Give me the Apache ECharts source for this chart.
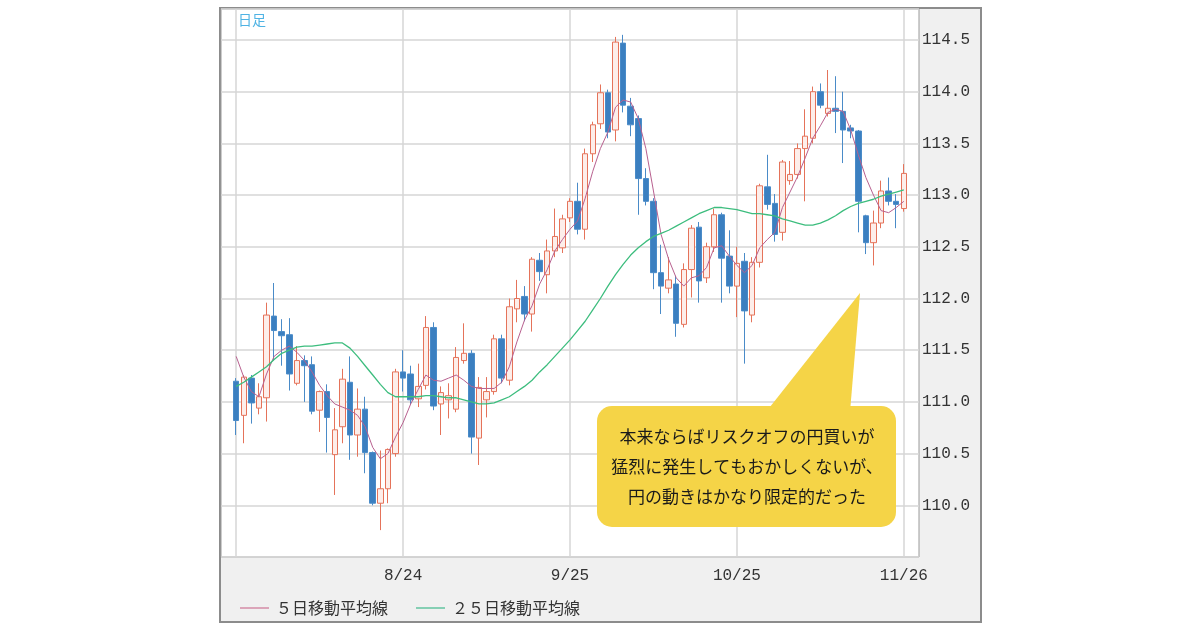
<!DOCTYPE html>
<html>
<head>
<meta charset="utf-8">
<script src="https://cdn.jsdelivr.net/npm/echarts@6/dist/echarts.min.js"></script>
<style>
html,body{margin:0;padding:0;background:#fff;}
#chart{width:1200px;height:630px;}
</style>
</head>
<body>
<div id="chart"></div>
<script>
// 取引日 (7/25 - 11/26)
var dates = ['7/25','7/26','7/27','7/30','7/31',
	'8/1','8/2','8/3','8/6','8/7','8/8','8/9','8/10','8/13','8/14','8/15','8/16','8/17','8/20','8/21','8/22','8/23','8/24','8/27','8/28','8/29','8/30','8/31',
	'9/3','9/4','9/5','9/6','9/7','9/10','9/11','9/12','9/13','9/14','9/17','9/18','9/19','9/20','9/21','9/24','9/25','9/26','9/27','9/28',
	'10/1','10/2','10/3','10/4','10/5','10/8','10/9','10/10','10/11','10/12','10/15','10/16','10/17','10/18','10/19','10/22','10/23','10/24','10/25','10/26','10/29','10/30','10/31',
	'11/1','11/2','11/5','11/6','11/7','11/8','11/9','11/12','11/13','11/14','11/15','11/16','11/19','11/20','11/21','11/22','11/23','11/26'];

var open = [111.20,110.87,111.23,110.94,111.04,111.83,111.68,111.65,111.18,111.40,
	111.36,110.92,111.10,110.49,110.76,111.19,110.68,110.93,110.51,110.02,
	110.16,110.50,111.29,111.27,111.03,111.16,111.72,110.98,111.02,110.93,
	111.40,111.47,110.65,111.02,111.10,111.61,111.21,111.90,112.02,111.85,
	112.37,112.23,112.46,112.49,112.78,112.94,112.67,113.40,113.69,113.99,
	113.63,114.47,113.86,113.74,113.16,112.94,112.25,112.10,112.14,111.75,
	112.28,112.69,112.20,112.50,112.81,112.41,112.12,112.36,111.84,112.35,
	113.08,112.92,112.64,113.14,113.20,113.45,113.55,114.00,113.79,113.84,
	113.81,113.65,113.62,112.80,112.54,112.73,113.04,112.94,112.87];
var close = [110.82,111.24,110.99,111.05,111.84,111.69,111.64,111.27,111.40,111.35,
	110.91,111.10,110.85,110.73,111.22,110.68,110.93,110.51,110.02,110.16,
	110.54,111.29,111.23,111.02,111.15,111.72,110.96,111.09,111.06,111.43,
	111.47,110.66,111.14,111.10,111.61,111.23,111.92,112.00,111.85,112.38,
	112.26,112.46,112.60,112.77,112.94,112.67,113.40,113.68,113.99,113.61,
	114.48,113.87,113.68,113.16,112.94,112.25,112.12,112.18,111.76,112.28,
	112.68,112.17,112.50,112.81,112.39,112.12,112.34,111.88,112.35,113.09,
	112.91,112.62,113.32,113.20,113.45,113.57,114.00,113.87,113.84,113.81,
	113.63,113.62,112.94,112.54,112.73,113.04,112.94,112.91,113.21];
var low = [110.68,110.60,110.79,110.88,110.81,111.40,111.35,111.11,111.16,111.00,
	110.88,110.71,110.51,110.10,110.60,110.44,110.47,110.31,110.00,109.76,
	110.02,110.47,111.10,110.98,110.95,111.12,110.92,110.68,110.84,110.90,
	111.37,110.50,110.39,110.85,111.07,111.18,111.16,111.77,111.78,111.68,
	112.17,112.05,112.40,112.44,112.74,112.62,112.57,113.32,113.64,113.55,
	113.52,113.80,113.57,112.81,112.90,112.09,111.85,112.05,111.63,111.72,
	112.01,111.96,112.15,112.45,111.96,112.05,111.82,111.37,111.77,112.30,
	112.86,112.55,112.56,113.10,113.16,112.94,113.50,113.84,113.76,113.60,
	113.31,113.55,112.64,112.43,112.32,112.68,112.90,112.68,112.84];
var high = [111.23,111.26,111.26,111.18,111.96,112.15,111.80,111.81,111.54,111.45,
	111.44,111.11,111.17,110.94,111.32,111.44,111.13,111.05,110.52,110.53,
	110.55,111.32,111.50,111.35,111.37,111.83,111.77,111.15,111.18,111.53,
	111.76,111.50,111.24,111.24,111.65,111.65,112.00,112.18,112.12,112.40,
	112.44,112.57,112.87,112.81,112.97,113.12,113.45,113.71,114.07,114.02,
	114.53,114.55,113.94,113.77,113.26,112.97,112.52,112.40,112.22,112.34,
	112.71,112.74,112.54,112.87,112.83,112.66,112.50,112.44,112.40,113.11,
	113.39,113.01,113.34,113.33,113.50,113.83,114.05,114.08,114.21,114.15,
	114.00,113.68,113.63,112.81,112.85,113.14,113.17,113.01,113.30];
// 移動平均線
var ma5 = [111.44,111.24,111.10,111.05,111.27,111.44,111.50,111.54,111.48,111.40,
	111.29,111.16,111.06,110.98,110.95,110.92,110.87,110.76,110.56,110.45,
	110.50,110.66,110.80,110.98,111.12,111.26,111.21,111.20,111.23,111.26,
	111.21,111.15,111.13,111.13,111.13,111.19,111.34,111.58,111.79,111.93,
	112.14,112.28,112.46,112.57,112.67,112.75,112.97,113.23,113.45,113.61,
	113.85,113.92,113.90,113.74,113.45,113.04,112.62,112.38,112.20,112.12,
	112.20,112.22,112.30,112.49,112.51,112.41,112.32,112.25,112.32,112.49,
	112.57,112.64,112.88,113.03,113.18,113.36,113.55,113.67,113.80,113.83,
	113.81,113.63,113.39,113.17,113.00,112.85,112.83,112.88,112.94];
var ma25 = [111.15,111.19,111.24,111.29,111.34,111.41,111.47,111.50,111.53,111.54,
	111.54,111.55,111.56,111.57,111.57,111.52,111.44,111.35,111.26,111.17,
	111.09,111.05,111.05,111.05,111.05,111.06,111.06,111.05,111.04,111.04,
	111.02,111.00,110.98,110.98,110.99,111.02,111.05,111.10,111.15,111.21,
	111.29,111.36,111.44,111.52,111.60,111.69,111.78,111.89,112.00,112.12,
	112.23,112.33,112.42,112.49,112.55,112.60,112.63,112.66,112.70,112.74,
	112.78,112.82,112.85,112.88,112.88,112.87,112.86,112.84,112.82,112.82,
	112.81,112.80,112.77,112.75,112.73,112.71,112.71,112.73,112.76,112.80,
	112.85,112.89,112.92,112.94,112.96,112.99,113.01,113.03,113.05];

var xLabels = ['8/24','9/25','10/25','11/26'];
var gridDates = ['7/25','8/24','9/25','10/25','11/26'];
var yMin = 109.5, yMax = 114.8, yStep = 0.5;
var seriesNames = ['５日移動平均線','２５日移動平均線'];

// 左右の余白用カテゴリ
var axisData = ['_a','_b'].concat(dates).concat(['_c','_d']);

var candles = [], line5 = [], line25 = [];
for(var i = 0;i<dates.length;i++){
	candles.push([dates[i], open[i], close[i], low[i], high[i]]);
	line5.push([dates[i], ma5[i]]);
	line25.push([dates[i], ma25[i]]);
}

var myChart = echarts.init(document.getElementById('chart'));
var monoFont = '"Liberation Mono", "DejaVu Sans Mono", monospace';
var jpFont = '"Noto Sans CJK JP", sans-serif';

option = {
	animation: false,
	grid: {
		left: 221, top: 9, width: 698, height: 548,
		show: true,
		backgroundColor: '#fff',
		borderColor: '#9a9a9a',
		borderWidth: 1
	},
	legend: {
		left: 235, top: 595,
		icon: 'rect',
		itemWidth: 29, itemHeight: 2, itemGap: 28,
		textStyle: {fontFamily: jpFont, fontSize: 16, color: '#333', padding: [0, 0, 0, 2]},
		data: [
			{name: seriesNames[0], itemStyle: {color: '#dba5b9'}},
			{name: seriesNames[1], itemStyle: {color: '#86cfb4'}}
		]
	},
	xAxis: {
		type: 'category',
		data: axisData,
		boundaryGap: false,
		axisLine: {show: false},
		axisTick: {show: false},
		axisLabel: {
			interval: function(idx, val){ return xLabels.indexOf(val) >= 0; },
			fontFamily: monoFont, fontSize: 16, color: '#333', margin: 11
		},
		splitLine: {
			show: true,
			interval: function(idx, val){ return gridDates.indexOf(val) >= 0; },
			lineStyle: {color: '#d6d6d6', width: 1.5}
		}
	},
	yAxis: {
		type: 'value',
		position: 'right',
		min: yMin, max: yMax, interval: yStep,
		axisLine: {show: false},
		axisTick: {show: false},
		axisLabel: {
			showMinLabel: false, showMaxLabel: false,
			formatter: function(v){ return v.toFixed(1); },
			fontFamily: monoFont, fontSize: 16, color: '#333', margin: 3
		},
		splitLine: {lineStyle: {color: '#d6d6d6', width: 1.5}}
	},
	series: [
		{
			name: '日足',
			type: 'candlestick',
			data: candles,
			encode: {x: 0, y: [1, 2, 3, 4]},
			barWidth: 6,
			itemStyle: {
				color: '#fdeeea',
				color0: '#3b7fc0',
				borderColor: '#e5735a',
				borderColor0: '#4a8bc8',
				borderWidth: 1
			}
		},
		{
			name: seriesNames[0],
			type: 'line',
			data: line5,
			symbol: 'none',
			lineStyle: {color: '#b8608f', width: 1},
			itemStyle: {color: '#b8608f'}
		},
		{
			name: seriesNames[1],
			type: 'line',
			data: line25,
			symbol: 'none',
			lineStyle: {color: '#3dbd7e', width: 1.3},
			itemStyle: {color: '#3dbd7e'}
		}
	],
	graphic: [
		{ // 外枠
			type: 'rect', z: -1,
			shape: {x: 220, y: 8, width: 761, height: 614},
			style: {fill: '#f0f0f0', stroke: '#8c8c8c', lineWidth: 2}
		},
		{
			type: 'text', z: 10,
			style: {text: '日足', x: 238, y: 13, font: '14px ' + jpFont, fill: '#4fb3e4'}
		},
		{ // 吹き出し
			type: 'polygon', z: 20,
			shape: {points: [[860, 293], [766, 412], [850, 412]]},
			style: {fill: '#f5d447'}
		},
		{
			type: 'rect', z: 20,
			shape: {x: 597, y: 406, width: 299, height: 121, r: 15},
			style: {fill: '#f5d447'}
		},
		{
			type: 'text', z: 21,
			style: {
				text: '本来ならばリスクオフの円買いが\n猛烈に発生してもおかしくないが、\n円の動きはかなり限定的だった',
				x: 747, y: 467,
				align: 'center', verticalAlign: 'middle',
				lineHeight: 30,
				font: '17px ' + jpFont,
				fill: '#1a1a1a'
			}
		}
	]
};
myChart.setOption(option);
</script>
</body>
</html>
